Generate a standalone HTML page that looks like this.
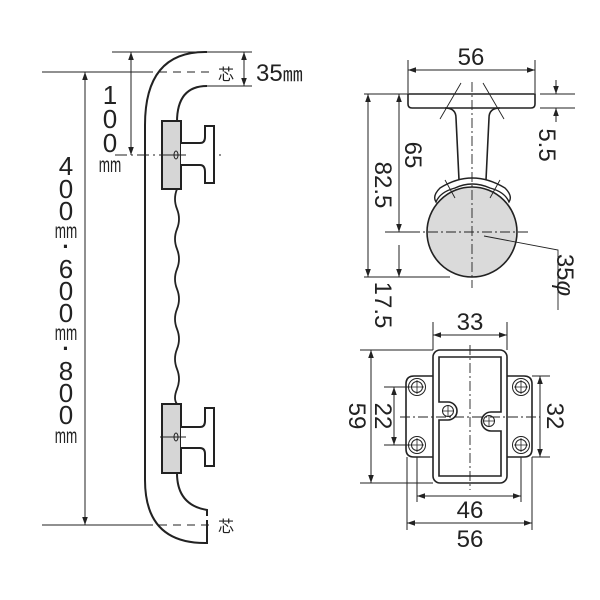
<!DOCTYPE html>
<html><head><meta charset="utf-8"><style>html,body{margin:0;padding:0;background:#fff}svg{display:block}</style></head>
<body>
<svg width="600" height="600" viewBox="0 0 600 600" xmlns="http://www.w3.org/2000/svg" font-family="'Liberation Sans','Noto Sans CJK JP',sans-serif">
<defs>
<marker id="a" viewBox="0 0 10 10" refX="10" refY="5" markerWidth="8" markerHeight="8" orient="auto-start-reverse" markerUnits="userSpaceOnUse"><path d="M0,1.5 L10,5 L0,8.5 Z" fill="#222"/></marker>
</defs>
<g stroke="#222" fill="none">
<g stroke-width="1">
<line x1="112" y1="52" x2="207" y2="52"/>
<line x1="207" y1="86" x2="252" y2="86"/>
<line x1="207" y1="52" x2="252" y2="52"/>
<line x1="42" y1="72" x2="145" y2="72"/>
<line x1="145" y1="72" x2="212" y2="72" stroke-dasharray="8,6"/>
<line x1="42" y1="525" x2="145" y2="525"/>
<line x1="145" y1="525" x2="212" y2="525" stroke-dasharray="8,6"/>
<line x1="115" y1="155" x2="222" y2="155" stroke-dasharray="12,4,2,4"/>
<line x1="85" y1="72" x2="85" y2="525" marker-start="url(#a)" marker-end="url(#a)"/>
<line x1="131" y1="52" x2="131" y2="155" marker-start="url(#a)" marker-end="url(#a)"/>
<line x1="244" y1="52" x2="244" y2="86" marker-start="url(#a)" marker-end="url(#a)"/>
</g>
<g stroke-width="2">
<path d="M207,52 L205,52 Q145,52 145,125 L145,480 Q145,543 205,543 L207,543 L207,520"/>
<path d="M207,86 Q177,86 177,122"/>
<path d="M177,473 Q177,505 207,510 L207,516"/>
<path d="M177,189 q-4,10 0,20 q4,10 0,20 q-4,10 0,20 q4,10 0,20 q-4,10 0,20 q4,10 0,20 q-4,10 0,20 q4,10 0,20 q-4,10 0,20 q4,10 0,20 q-4,10 0,15" stroke-width="1.8"/>
<rect x="162" y="121" width="19" height="68" fill="#d6d6d6"/>
<path d="M181,143 L200,143 Q205,143 205,137 L205,126 L214,126 L214,183 L205,183 L205,172 Q205,165 200,165 L181,165" fill="#fff"/>
<rect x="162" y="404" width="19" height="69" fill="#d6d6d6"/>
<path d="M181,427 L200,427 Q205,427 205,421 L205,408 L214,408 L214,466 L205,466 L205,454 Q205,448 200,448 L181,448" fill="#fff"/>
</g>
<ellipse cx="176" cy="155" rx="2" ry="4" stroke-width="1"/>
<ellipse cx="176" cy="437" rx="2" ry="4" stroke-width="1"/>
<line x1="160" y1="155" x2="186" y2="155" stroke-width="1"/>
<line x1="160" y1="437" x2="186" y2="437" stroke-width="1"/>

<g stroke-width="1">
<line x1="408" y1="60" x2="408" y2="93"/><line x1="535" y1="60" x2="535" y2="93"/>
<line x1="408" y1="70" x2="535" y2="70" marker-start="url(#a)" marker-end="url(#a)"/>
<line x1="540" y1="94" x2="575" y2="94"/><line x1="540" y1="108" x2="575" y2="108"/>
<line x1="556" y1="80" x2="556" y2="94" marker-end="url(#a)"/>
<line x1="556" y1="122" x2="556" y2="108" marker-end="url(#a)"/>
<line x1="364" y1="94" x2="408" y2="94"/>
<line x1="364" y1="277" x2="450" y2="277"/>
<line x1="385" y1="232" x2="410" y2="232"/>
<line x1="368" y1="94" x2="368" y2="277" marker-start="url(#a)" marker-end="url(#a)"/>
<line x1="399" y1="94" x2="399" y2="232" marker-start="url(#a)" marker-end="url(#a)"/>
<line x1="399" y1="245" x2="399" y2="277" marker-end="url(#a)"/>
<line x1="399" y1="225" x2="399" y2="232"/>
</g>
<path d="M408,94 L535,94 L535,104 Q535,108 531,108 L412,108 Q408,108 408,104 Z" stroke-width="1.6" fill="#fff"/>
<path d="M445,108 Q456,108 456,118 L459,180 M500,108 Q489,108 489,118 L486,180" stroke-width="1.6"/>
<circle cx="472" cy="232" r="45" fill="#dadada" stroke-width="1.6"/>
<path d="M436,202 Q432,196 440,188 Q472,168 505,188 Q513,196 509,202 Q505,192 490,188 Q472,180 455,188 Q440,192 436,202 Z" fill="#fff" stroke-width="1.4"/>
<g stroke-width="0.9">
<line x1="461" y1="83" x2="440" y2="119"/><line x1="483" y1="83" x2="504" y2="119"/>
<line x1="445" y1="180" x2="455" y2="198"/><line x1="500" y1="180" x2="490" y2="198"/>
<line x1="472" y1="82" x2="472" y2="288" stroke-dasharray="10,3,2,3"/>
<line x1="410" y1="232" x2="530" y2="232" stroke-dasharray="10,3,2,3"/>
<polyline points="484,236 558,250 558,310"/>
</g>

<g stroke-width="1">
<line x1="433" y1="322" x2="433" y2="350"/><line x1="507" y1="322" x2="507" y2="350"/>
<line x1="433" y1="335" x2="507" y2="335" marker-start="url(#a)" marker-end="url(#a)"/>
<line x1="360" y1="350" x2="433" y2="350"/><line x1="360" y1="483" x2="433" y2="483"/>
<line x1="371" y1="350" x2="371" y2="483" marker-start="url(#a)" marker-end="url(#a)"/>
<line x1="384" y1="387" x2="410" y2="387"/><line x1="384" y1="445" x2="410" y2="445"/>
<line x1="394" y1="387" x2="394" y2="445" marker-start="url(#a)" marker-end="url(#a)"/>
<line x1="532" y1="376" x2="550" y2="376"/><line x1="532" y1="457" x2="550" y2="457"/>
<line x1="540" y1="376" x2="540" y2="457" marker-start="url(#a)" marker-end="url(#a)"/>
<line x1="417" y1="457" x2="417" y2="502"/><line x1="521" y1="457" x2="521" y2="502"/>
<line x1="417" y1="496" x2="521" y2="496" marker-start="url(#a)" marker-end="url(#a)"/>
<line x1="407" y1="457" x2="407" y2="530"/><line x1="532" y1="457" x2="532" y2="530"/>
<line x1="407" y1="523" x2="532" y2="523" marker-start="url(#a)" marker-end="url(#a)"/>
</g>
<g stroke-width="1.6">
<path d="M433,376 L414,376 Q406,376 406,384 L406,449 Q406,457 414,457 L433,457"/>
<path d="M507,376 L524,376 Q532,376 532,384 L532,449 Q532,457 524,457 L507,457"/>
<rect x="433" y="350" width="74" height="133" rx="7"/>
<path d="M439,357 L501,357 L501,412 L491,412 A9.5,9.5 0 0 0 491,431 L501,431 L501,476 L439,476 L439,420 L448,420 A9,9 0 0 0 448,402 L439,402 Z"/>
</g>
<g stroke-width="1">
<circle cx="417" cy="387" r="8.5"/><circle cx="417" cy="387" r="5.5"/>
<circle cx="417" cy="445" r="8.5"/><circle cx="417" cy="445" r="5.5"/>
<circle cx="521" cy="387" r="8.5"/><circle cx="521" cy="387" r="5.5"/>
<circle cx="521" cy="445" r="8.5"/><circle cx="521" cy="445" r="5.5"/>
<circle cx="448" cy="411" r="5.5"/><circle cx="489" cy="421" r="5.5"/>
<path d="M410,387h14M417,380v14M410,445h14M417,438v14M514,387h14M521,380v14M514,445h14M521,438v14M442,411h12M448,405v12M483,421h12M489,415v12" stroke-width="0.8"/>
<line x1="470" y1="345" x2="470" y2="490" stroke-dasharray="10,3,2,3" stroke-width="0.9"/>
<line x1="400" y1="417" x2="540" y2="417" stroke-dasharray="10,3,2,3" stroke-width="0.9"/>
</g>
</g>

<g fill="#222">
<text x="218" y="80" font-size="16">芯</text>
<text x="218" y="532" font-size="16">芯</text>
<text x="256" y="81" font-size="24">35<tspan font-size="20">㎜</tspan></text>
<g font-size="26" text-anchor="middle">
<text x="110" y="104">1</text><text x="110" y="128">0</text><text x="110" y="152">0</text>
<text transform="translate(110,172) scale(0.75,1.2)" font-size="18">mm</text>
<text x="66" y="175">4</text><text x="66" y="198">0</text><text x="66" y="220">0</text>
<text transform="translate(66,238) scale(0.75,1.2)" font-size="18">mm</text><text x="66" y="254" font-size="22" font-weight="bold">·</text>
<text x="66" y="278">6</text><text x="66" y="300">0</text><text x="66" y="322">0</text>
<text transform="translate(66,340) scale(0.75,1.2)" font-size="18">mm</text><text x="66" y="356" font-size="22" font-weight="bold">·</text>
<text x="66" y="380">8</text><text x="66" y="402">0</text><text x="66" y="424">0</text>
<text transform="translate(66,443) scale(0.75,1.2)" font-size="18">mm</text>
</g>
<g font-size="24" text-anchor="middle">
<text x="471" y="65">56</text>
<text transform="translate(539,145) rotate(90)">5.5</text>
<text transform="translate(375,185) rotate(90)">82.5</text>
<text transform="translate(405,155) rotate(90)">65</text>
<text transform="translate(375,305) rotate(90)">17.5</text>
<text transform="translate(557,275) rotate(90)">35<tspan font-style="italic">φ</tspan></text>
<text x="470" y="330">33</text>
<text transform="translate(349,416) rotate(90)">59</text>
<text transform="translate(375,416) rotate(90)">22</text>
<text transform="translate(547,416) rotate(90)">32</text>
<text x="470" y="518">46</text>
<text x="470" y="547">56</text>
</g>
</g>
</svg>
</body></html>
